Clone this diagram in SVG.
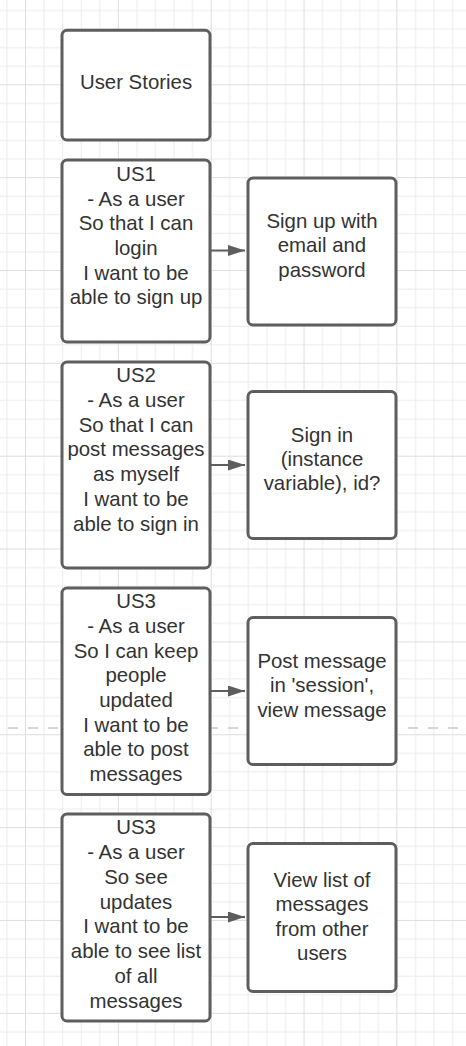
<svg xmlns="http://www.w3.org/2000/svg" width="466" height="1046" viewBox="0 0 466 1046">
<defs>
<pattern id="grid" patternUnits="userSpaceOnUse" x="25" y="84.3" width="92.85" height="92.85">
<rect x="0" y="0" width="92.85" height="92.85" fill="#ffffff"/>
<g fill="#ececec">
<rect x="18.57" y="0" width="1" height="92.85"/>
<rect x="37.14" y="0" width="1" height="92.85"/>
<rect x="55.71" y="0" width="1" height="92.85"/>
<rect x="74.28" y="0" width="1" height="92.85"/>
<rect x="0" y="18.57" width="92.85" height="1"/>
<rect x="0" y="37.14" width="92.85" height="1"/>
<rect x="0" y="55.71" width="92.85" height="1"/>
<rect x="0" y="74.28" width="92.85" height="1"/>
</g>
<g fill="#dedede">
<rect x="0" y="0" width="1" height="92.85"/>
<rect x="0" y="0" width="92.85" height="1"/>
</g>
</pattern>
<marker id="arrow" viewBox="0 0 17 11" refX="17" refY="5.5" markerUnits="userSpaceOnUse" markerWidth="17" markerHeight="11" orient="auto">
<path d="M0,0 L17,5.5 L0,11 Z" fill="#5e5e5e"/>
</marker>
</defs>
<style>
.box{fill:#ffffff;stroke:#5e5e5e;stroke-width:3}
.t{font-family:"Liberation Sans",Arial,sans-serif;font-size:20.4px;fill:#333333;text-anchor:middle}
.conn{stroke:#5e5e5e;stroke-width:2;fill:none}
</style>
<rect x="0" y="0" width="466" height="1046" fill="url(#grid)"/>
<line x1="8" y1="728" x2="466" y2="728" stroke="#d6d6d6" stroke-width="2" stroke-dasharray="10 10"/>

<g id="connectors">
<line class="conn" x1="211" y1="250.5" x2="245" y2="250.5" marker-end="url(#arrow)"/>
<line class="conn" x1="211" y1="465" x2="245" y2="465" marker-end="url(#arrow)"/>
<line class="conn" x1="211" y1="691" x2="245" y2="691" marker-end="url(#arrow)"/>
<line class="conn" x1="211" y1="917" x2="245" y2="917" marker-end="url(#arrow)"/>
</g>

<g id="user-stories">
<rect class="box" x="62" y="30.3" width="148" height="109.7" rx="5"/>
<text class="t" x="136" y="89.3">User Stories</text>
</g>

<g id="us1">
<rect class="box" x="62" y="160" width="148" height="182" rx="5"/>
<text class="t" x="136" y="180.7">US1</text>
<text class="t" x="136" y="205.5">- As a user</text>
<text class="t" x="136" y="230.3">So that I can</text>
<text class="t" x="136" y="255">login</text>
<text class="t" x="136" y="279.5">I want to be</text>
<text class="t" x="136" y="304.2">able to sign up</text>
</g>

<g id="signup">
<rect class="box" x="248" y="178" width="148" height="147" rx="5"/>
<text class="t" x="322" y="228.3">Sign up with</text>
<text class="t" x="322" y="252">email and</text>
<text class="t" x="322" y="276.7">password</text>
</g>

<g id="us2">
<rect class="box" x="62" y="362" width="148" height="206" rx="5"/>
<text class="t" x="136" y="382.3">US2</text>
<text class="t" x="136" y="407.1">- As a user</text>
<text class="t" x="136" y="431.9">So that I can</text>
<text class="t" x="136" y="456.4">post messages</text>
<text class="t" x="136" y="481">as myself</text>
<text class="t" x="136" y="505.7">I want to be</text>
<text class="t" x="136" y="530.5">able to sign in</text>
</g>

<g id="signin">
<rect class="box" x="248" y="391.5" width="148" height="147" rx="5"/>
<text class="t" x="322" y="442.3">Sign in</text>
<text class="t" x="322" y="466">(instance</text>
<text class="t" x="322" y="490.3">variable), id?</text>
</g>

<g id="us3">
<rect class="box" x="62" y="588" width="148" height="206.5" rx="5"/>
<text class="t" x="136" y="608">US3</text>
<text class="t" x="136" y="633">- As a user</text>
<text class="t" x="136" y="658">So I can keep</text>
<text class="t" x="136" y="682">people</text>
<text class="t" x="136" y="706.7">updated</text>
<text class="t" x="136" y="731.5">I want to be</text>
<text class="t" x="136" y="756.3">able to post</text>
<text class="t" x="136" y="781.2">messages</text>
</g>

<g id="post-message">
<rect class="box" x="248" y="617.5" width="148" height="147" rx="5"/>
<text class="t" x="322" y="668.3">Post message</text>
<text class="t" x="322" y="692">in 'session',</text>
<text class="t" x="322" y="716.7">view message</text>
</g>

<g id="us3b">
<rect class="box" x="62" y="814" width="148" height="207" rx="5"/>
<text class="t" x="136" y="834">US3</text>
<text class="t" x="136" y="859">- As a user</text>
<text class="t" x="136" y="884">So see</text>
<text class="t" x="136" y="908.5">updates</text>
<text class="t" x="136" y="933.3">I want to be</text>
<text class="t" x="136" y="958">able to see list</text>
<text class="t" x="136" y="982.8">of all</text>
<text class="t" x="136" y="1007.5">messages</text>
</g>

<g id="view-list">
<rect class="box" x="248" y="843.5" width="148" height="148" rx="5"/>
<text class="t" x="322" y="887.3">View list of</text>
<text class="t" x="322" y="911">messages</text>
<text class="t" x="322" y="935.5">from other</text>
<text class="t" x="322" y="960">users</text>
</g>
</svg>
